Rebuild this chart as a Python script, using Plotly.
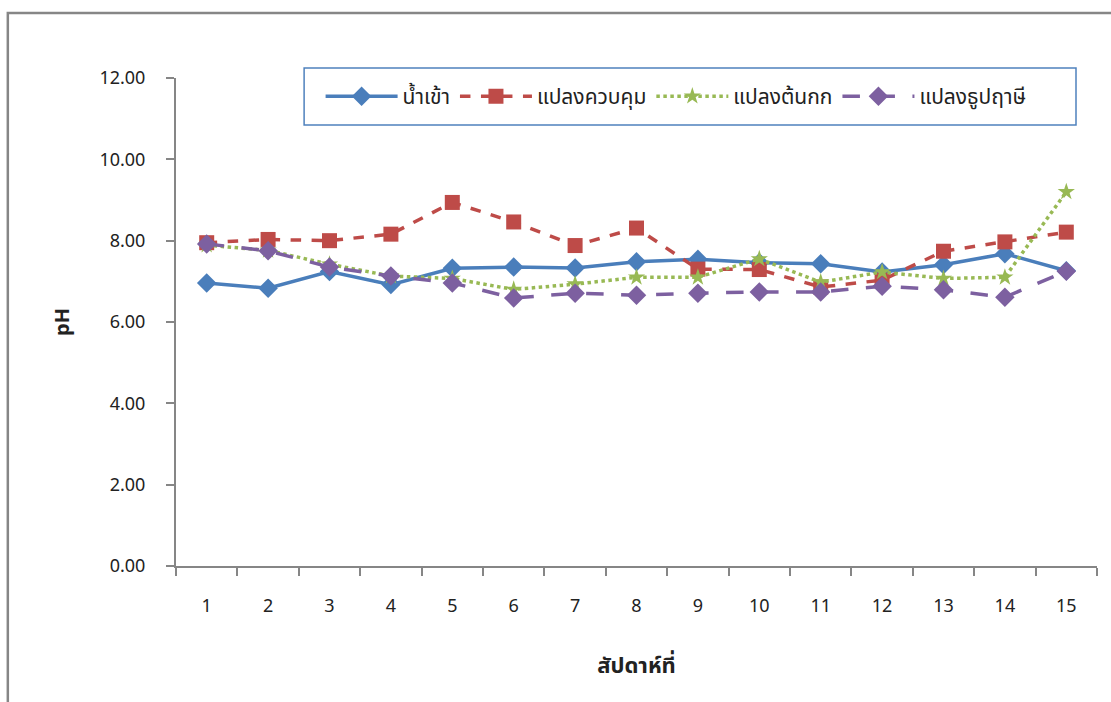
import plotly.graph_objects as go

weeks = [str(i) for i in range(1, 16)]
inflow = [6.96, 6.83, 7.24, 6.92, 7.32, 7.35, 7.33, 7.48, 7.54, 7.46, 7.43, 7.23, 7.41, 7.68, 7.26]
control = [7.95, 8.03, 8.00, 8.16, 8.94, 8.46, 7.88, 8.31, 7.30, 7.29, 6.86, 7.03, 7.74, 7.97, 8.21]
sedge = [7.89, 7.76, 7.42, 7.13, 7.07, 6.80, 6.93, 7.10, 7.10, 7.55, 6.98, 7.23, 7.07, 7.10, 9.20]
cattail = [7.92, 7.75, 7.35, 7.13, 6.96, 6.59, 6.71, 6.66, 6.71, 6.74, 6.74, 6.88, 6.79, 6.61, 7.25]

names = ["น้ำเข้า", "แปลงควบคุม", "แปลงต้นกก", "แปลงธูปฤาษี"]
yticks = [0, 2, 4, 6, 8, 10, 12]
ytick_text = ["0.00", "2.00", "4.00", "6.00", "8.00", "10.00", "12.00"]

FONT = "Noto Sans, Noto Sans Thai, Tahoma, sans-serif"

fig = go.Figure()
fig.add_trace(go.Scatter(x=weeks, y=inflow, name=names[0], mode="lines+markers",
                         line=dict(color="#4A7EBB", width=3.5),
                         marker=dict(symbol="diamond", size=15, color="#4A7EBB")))
fig.add_trace(go.Scatter(x=weeks, y=control, name=names[1], mode="lines+markers",
                         line=dict(color="#BE4B48", width=3.5, dash="dash"),
                         marker=dict(symbol="square", size=15, color="#BE4B48")))
fig.add_trace(go.Scatter(x=weeks, y=sedge, name=names[2], mode="lines+markers",
                         line=dict(color="#98B954", width=3.5, dash="dot"),
                         marker=dict(symbol="star", size=13, color="#98B954")))
fig.add_trace(go.Scatter(x=weeks, y=cattail, name=names[3], mode="lines+markers",
                         line=dict(color="#7D60A0", width=3.5, dash="longdash"),
                         marker=dict(symbol="diamond", size=15, color="#7D60A0")))

fig.update_layout(
    width=1111, height=702,
    margin=dict(l=176, r=14, t=78, b=136),
    paper_bgcolor="white", plot_bgcolor="white",
    font=dict(family=FONT, size=18, color="#222222"),
    showlegend=True,
    legend=dict(orientation="h", x=0.157, y=0.962, xanchor="left", yanchor="middle",
                borderwidth=0, bgcolor="rgba(0,0,0,0)",
                font=dict(family=FONT, size=21, color="#222222"),
                itemwidth=72),
    xaxis=dict(type="category", showgrid=False, showline=True, linecolor="#868686",
               linewidth=2, ticks="outside", ticklen=8, tickcolor="#868686", tickwidth=2,
               tickson="boundaries", range=[-0.5, 14.5], ticklabelstandoff=22,
               title=dict(text="<b>สัปดาห์ที่</b>", standoff=42, font=dict(size=22))),
    yaxis=dict(range=[0, 12], tickvals=yticks, ticktext=ytick_text, showgrid=False,
               showline=True, linecolor="#868686", linewidth=2, ticks="outside",
               ticklen=8, tickcolor="#868686", tickwidth=2, ticklabelstandoff=17,
               zeroline=False,
               title=dict(text="<b>pH</b>", standoff=24, font=dict(size=20))),
    shapes=[dict(type="rect", xref="paper", yref="paper", x0=-0.1826, x1=1.05,
                 y0=-0.5, y1=1.1332, line=dict(color="#868686", width=2.5),
                 fillcolor="rgba(0,0,0,0)", layer="below"),
            dict(type="rect", xref="paper", yref="paper", x0=0.1391, x1=0.9772,
                 y0=0.9037, y1=1.0205, line=dict(color="#4F81BD", width=1.5),
                 fillcolor="white", layer="below")],
)

fig.write_html("out.html")
